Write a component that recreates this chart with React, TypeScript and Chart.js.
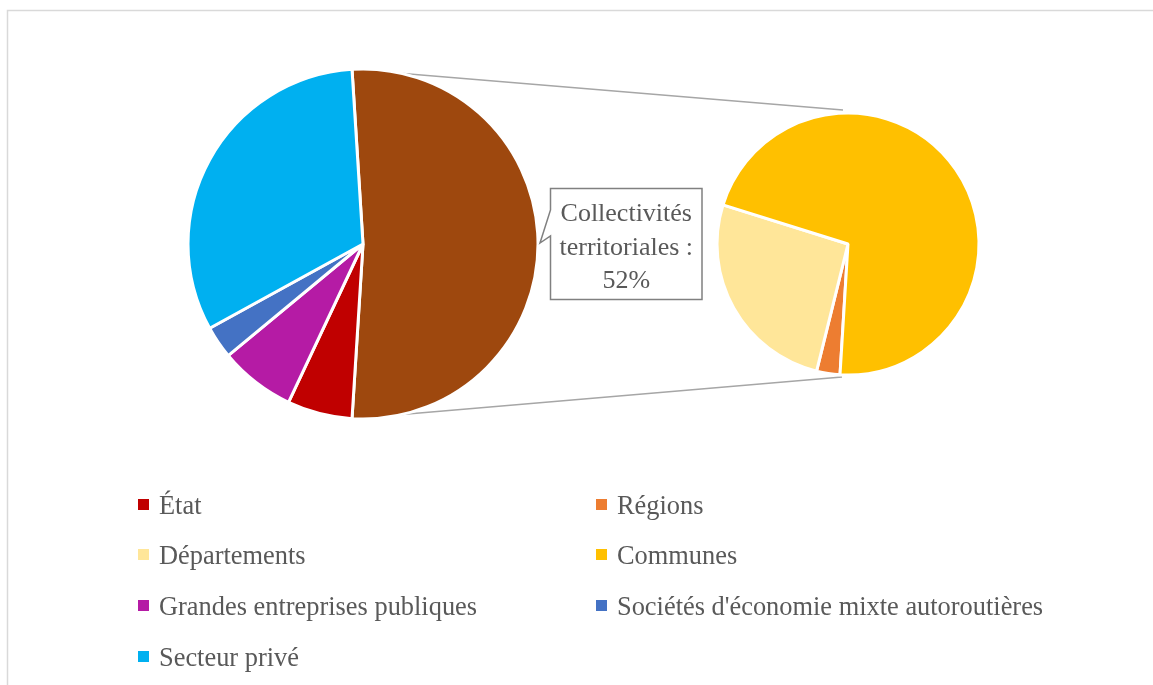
import { useEffect, useRef } from 'react';
import { Chart, registerables } from 'chart.js';

Chart.register(...registerables);

// ---- data ----
const mainLabels = [
  'Collectivités territoriales',
  'État',
  'Grandes entreprises publiques',
  "Sociétés d'économie mixte autoroutières",
  'Secteur privé',
];
const mainValues = [52, 6, 7, 3, 32];
const mainColors = ['#9E480E', '#C00000', '#B51BA5', '#4472C4', '#00B0F0'];

const subLabels = ['Régions', 'Départements', 'Communes'];
const subValues = [1.5, 13.5, 37];
const subColors = ['#ED7D31', '#FFE699', '#FFC000'];

const legendLabels = [
  'État',
  'Régions',
  'Départements',
  'Communes',
  'Grandes entreprises publiques',
  "Sociétés d'économie mixte autoroutières",
  'Secteur privé',
];

const calloutLines = ['Collectivités', 'territoriales :', `${mainValues[0]}%`];

// ---- layout ----
const W = 1153;
const H = 685;
const MAIN = { cx: 363, cy: 244, r: 175 };
const SUB = { cx: 848, cy: 244, r: 131 };
const FONT = "'Liberation Serif', 'Times New Roman', serif";
const TEXT_COLOR = '#595959';

function padFor(p: { cx: number; cy: number; r: number }) {
  const m = 6;
  return {
    left: p.cx - p.r - m,
    right: W - (p.cx + p.r + m),
    top: p.cy - p.r - m,
    bottom: H - (p.cy + p.r + m),
  };
}

const colorFor = (label: string) => {
  const i = mainLabels.indexOf(label);
  if (i >= 0) return mainColors[i];
  const j = subLabels.indexOf(label);
  return subColors[j];
};

const decorPlugin = {
  id: 'decor',
  beforeDatasetsDraw(chart: any) {
    const ctx = chart.ctx as CanvasRenderingContext2D;
    // frame
    ctx.save();
    ctx.strokeStyle = '#D9D9D9';
    ctx.lineWidth = 1.5;
    ctx.strokeRect(7.5, 10.5, W + 20, H + 20);
    ctx.restore();

    // connector lines
    const arc: any = chart.getDatasetMeta(0).data[0];
    if (!arc) return;
    const { x, y, startAngle, endAngle, outerRadius } = arc.getProps(
      ['x', 'y', 'startAngle', 'endAngle', 'outerRadius'],
      true
    );
    const p1 = { x: x + outerRadius * Math.cos(startAngle), y: y + outerRadius * Math.sin(startAngle) };
    const p2 = { x: x + outerRadius * Math.cos(endAngle), y: y + outerRadius * Math.sin(endAngle) };
    ctx.save();
    ctx.strokeStyle = '#A6A6A6';
    ctx.lineWidth = 1.5;
    ctx.beginPath();
    ctx.moveTo(p1.x, p1.y);
    ctx.lineTo(SUB.cx - 5, SUB.cy - SUB.r - 3);
    ctx.moveTo(p2.x, p2.y);
    ctx.lineTo(SUB.cx - 6, SUB.cy + SUB.r + 2);
    ctx.stroke();
    ctx.restore();
  },
  afterDatasetsDraw(chart: any) {
    const ctx = chart.ctx as CanvasRenderingContext2D;
    // callout
    const L = 550.5, T = 188.5, R = 702, B = 299.5;
    ctx.save();
    ctx.fillStyle = '#FFFFFF';
    ctx.strokeStyle = '#808080';
    ctx.lineWidth = 1.5;
    ctx.lineJoin = 'miter';
    ctx.beginPath();
    ctx.moveTo(L, T);
    ctx.lineTo(R, T);
    ctx.lineTo(R, B);
    ctx.lineTo(L, B);
    ctx.lineTo(L, 236);
    ctx.lineTo(540, 243);
    ctx.lineTo(L, 210);
    ctx.closePath();
    ctx.fill();
    ctx.stroke();

    ctx.fillStyle = TEXT_COLOR;
    ctx.font = `26px ${FONT}`;
    ctx.textAlign = 'center';
    ctx.textBaseline = 'alphabetic';
    const baselines = [221, 254.5, 288];
    calloutLines.forEach((t, i) => ctx.fillText(t, (L + R) / 2, baselines[i]));

    // legend
    ctx.font = `26.4px ${FONT}`;
    const colX = [138, 596];
    const rowY = [504.5, 554.5, 605.5, 656.5];
    ctx.textAlign = 'left';
    legendLabels.forEach((lab, i) => {
      const cx = colX[i % 2];
      const cy = rowY[Math.floor(i / 2)];
      ctx.fillStyle = colorFor(lab);
      ctx.fillRect(cx, cy - 5.5, 11, 11);
      ctx.fillStyle = TEXT_COLOR;
      ctx.fillText(lab, cx + 21, cy + 9);
    });
    ctx.restore();
  },
};

export default function App() {
  const mainRef = useRef<HTMLCanvasElement>(null);
  const subRef = useRef<HTMLCanvasElement>(null);

  useEffect(() => {
    const common = {
      responsive: true,
      maintainAspectRatio: false,
      animation: false as const,
      events: [] as any[],
      plugins: { legend: { display: false }, tooltip: { enabled: false } },
    };
    const main = new Chart(mainRef.current!, {
      type: 'pie',
      data: {
        labels: mainLabels,
        datasets: [
          {
            data: mainValues,
            backgroundColor: mainColors,
            borderColor: '#FFFFFF',
            borderWidth: 3,
            radius: MAIN.r,
          } as any,
        ],
      },
      options: {
        ...common,
        rotation: 90 - (mainValues[0] / mainValues.reduce((a, b) => a + b, 0)) * 180,
        layout: { padding: padFor(MAIN) },
      } as any,
      plugins: [decorPlugin],
    });
    const sub = new Chart(subRef.current!, {
      type: 'pie',
      data: {
        labels: subLabels,
        datasets: [
          {
            data: subValues,
            backgroundColor: subColors,
            borderColor: '#FFFFFF',
            borderWidth: 3,
            radius: SUB.r,
          } as any,
        ],
      },
      options: {
        ...common,
        rotation: 183.5,
        layout: { padding: padFor(SUB) },
      } as any,
    });
    return () => {
      main.destroy();
      sub.destroy();
    };
  }, []);

  return (
    <div style={{ position: 'fixed', left: 0, top: 0, width: W, height: H, background: '#FFFFFF' }}>
      <div style={{ position: 'absolute', left: 0, top: 0, width: W, height: H }}>
        <canvas ref={mainRef} />
      </div>
      <div style={{ position: 'absolute', left: 0, top: 0, width: W, height: H, pointerEvents: 'none' }}>
        <canvas ref={subRef} />
      </div>
    </div>
  );
}
